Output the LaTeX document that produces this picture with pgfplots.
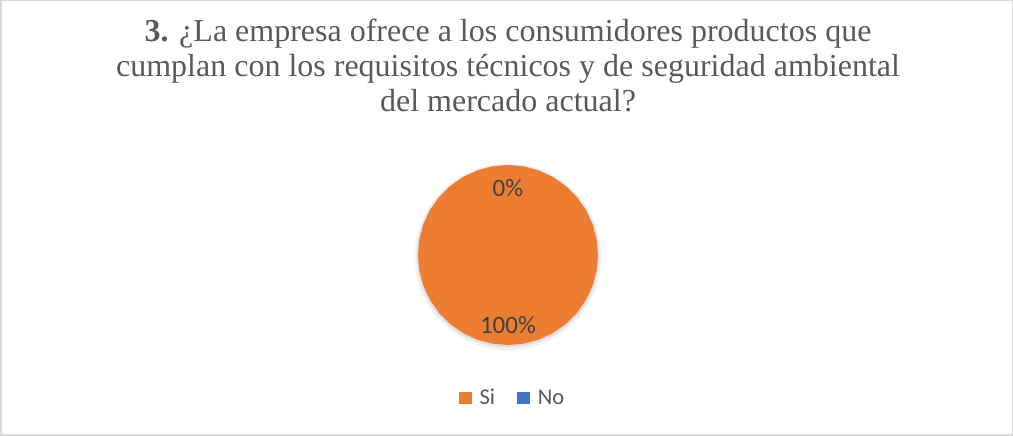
\documentclass[border=0pt]{standalone}
\usepackage{pgfplots}
\pgfplotsset{compat=1.18}
\usepackage{pgfplotstable}
\usepgfplotslibrary{polar}
\usepackage{fontspec}
\setmainfont{Liberation Serif}
\newfontfamily\carlito{Carlito}

\definecolor{xlorange}{HTML}{ED7D31}
\definecolor{xlblue}{HTML}{4472C4}
\definecolor{txtgray}{HTML}{595959}
\definecolor{lblgray}{HTML}{404040}
\definecolor{framegray}{HTML}{D9D9D9}

% Si = 100 %, No = 0 %: the Si slice runs clockwise from 12 o'clock all the way round
\pgfplotstableread{
ang r
450 1
440 1
430 1
420 1
410 1
400 1
390 1
380 1
370 1
360 1
350 1
340 1
330 1
320 1
310 1
300 1
290 1
280 1
270 1
260 1
250 1
240 1
230 1
220 1
210 1
200 1
190 1
180 1
170 1
160 1
150 1
140 1
130 1
120 1
110 1
100 1
90 1
}\sislice

\begin{document}
\begin{tikzpicture}
\useasboundingbox (0,0) rectangle (1013pt,436pt);
\draw[framegray, line width=1.5pt] (0.75pt,0.75pt) rectangle (1012.25pt,435.25pt);

\begin{scope}[every node/.style={anchor=base, inner sep=0pt, text=txtgray, font=\fontsize{32}{35}\selectfont}]
\node at (508pt,394pt) {\textbf{3.} ¿La empresa ofrece a los consumidores productos que};
\node at (508pt,359pt) {cumplan con los requisitos técnicos y de seguridad ambiental};
\node at (508pt,324pt) {del mercado actual?};
\end{scope}

\begin{polaraxis}[
  at={(508pt,181pt)}, anchor=center,
  scale only axis, width=180pt, height=180pt,
  hide axis, clip=false,
  ymin=0, ymax=1,
  legend columns=2,
  legend image code/.code={\fill[#1] (0pt,-6.4pt) rectangle (12.8pt,6.4pt);},
  legend style={at={(axis description cs:0.525,-0.294)}, anchor=center,
    draw=none, fill=none, inner sep=0pt,
    font=\carlito\fontsize{22.5}{22.5}\selectfont, text=txtgray,
    column sep=6pt,
    /tikz/every even column/.append style={column sep=20pt}},
]
\addplot[forget plot, draw=black, opacity=0.05, line width=7pt, yshift=-2pt] table[x=ang, y=r] {\sislice};
\addplot[forget plot, draw=black, opacity=0.08, line width=3pt, yshift=-1pt] table[x=ang, y=r] {\sislice};
\addplot[draw=none, fill=xlorange] table[x=ang, y=r] {\sislice};
\addlegendentry{Si}
\addlegendimage{draw=none, fill=xlblue}
\addlegendentry{No}

\node[font=\carlito\fontsize{25}{25}\selectfont, text=lblgray] at (axis cs:90,0.74) {0\%};
\node[font=\carlito\fontsize{25}{25}\selectfont, text=lblgray] at (axis cs:270,0.78) {100\%};
\end{polaraxis}
\end{tikzpicture}
\end{document}
